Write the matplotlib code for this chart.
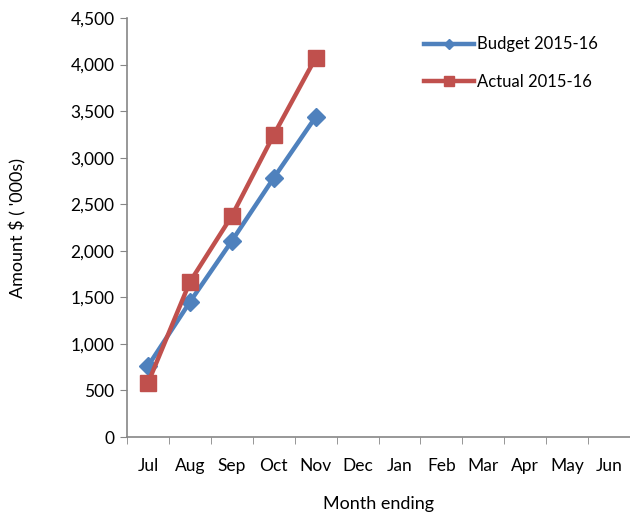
import numpy as np
import matplotlib
matplotlib.use("Agg")
import matplotlib.pyplot as plt
from matplotlib.ticker import FuncFormatter

plt.rcParams['font.family'] = ['Lato', 'DejaVu Sans']

months = ["Jul", "Aug", "Sep", "Oct", "Nov", "Dec", "Jan", "Feb", "Mar", "Apr", "May", "Jun"]
budget = [762, 1450, 2105, 2782, 3437]
actual = [580, 1665, 2374, 3244, 4071]

fig = plt.figure(figsize=(6.3, 5.17), dpi=100)
ax = fig.add_axes([0.2016, 0.1547, 0.7984, 0.8105])

x = np.arange(len(months))
ax.plot(x[:len(budget)], budget, color="#4F81BD", lw=3.2, marker="D", ms=9,
        label="Budget 2015-16")
ax.plot(x[:len(actual)], actual, color="#C0504D", lw=3.2, marker="s", ms=11,
        label="Actual 2015-16")

ax.set_xlim(-0.5, len(months) - 0.5)
ax.set_ylim(0, 4500)
ax.set_yticks(np.arange(0, 4501, 500))
ax.yaxis.set_major_formatter(FuncFormatter(lambda v, p: f"{int(v):,}"))
ax.set_xticks(x)
ax.set_xticklabels(months)
ax.set_xticks(np.arange(-0.5, len(months)), minor=True)
ax.tick_params(axis="x", which="major", length=0, pad=15, labelsize=12.5)
ax.tick_params(axis="x", which="minor", length=5, color="#868686", direction="out")
ax.tick_params(axis="y", length=5, color="#868686", labelsize=12.5, pad=4)

for s in ["top", "right"]:
    ax.spines[s].set_visible(False)
for s in ["left", "bottom"]:
    ax.spines[s].set_color("#868686")
    ax.spines[s].set_linewidth(1.2)

ax.set_xlabel("Month ending", fontsize=13, labelpad=16)
ax.set_ylabel("Amount $ ( '000s)", fontsize=13, labelpad=32)

ax.legend(loc="upper left", bbox_to_anchor=(0.56, 0.992), frameon=False,
          fontsize=12, handlelength=3.0, labelspacing=1.3, handletextpad=0.2,
          markerscale=0.6)

fig.savefig("out.png", dpi=100)
